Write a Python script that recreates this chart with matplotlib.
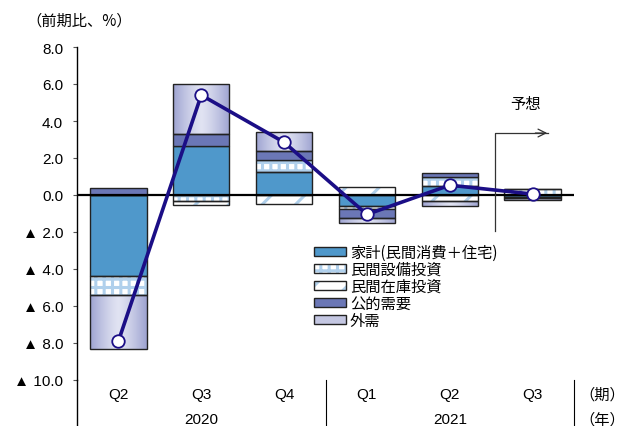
import numpy as np
import matplotlib
matplotlib.use("Agg")
import matplotlib.pyplot as plt
from matplotlib.patches import Patch
from matplotlib.legend_handler import HandlerTuple
import matplotlib.transforms as mtransforms

plt.rcParams['font.family'] = ['Liberation Sans', 'Noto Sans CJK JP', 'DejaVu Sans']
plt.rcParams['hatch.linewidth'] = 2.2

quarters = ['Q2', 'Q3', 'Q4', 'Q1', 'Q2', 'Q3']
years = ['2020', '2021']
series_names = ['家計(民間消費＋住宅)', '民間設備投資', '民間在庫投資', '公的需要', '外需']
household = [-4.4, 2.63, 1.26, -0.6, 0.5, -0.1]
equipment = [-1.0, -0.3, 0.65, -0.15, 0.45, 0.3]
inventory = [0.0, -0.24, -0.5, 0.45, -0.3, 0.0]
public = [0.4, 0.65, 0.45, -0.5, 0.22, -0.05]
foreign = [-2.9, 2.7, 1.03, -0.25, -0.32, -0.1]
gdp = [-7.9, 5.4, 2.85, -1.05, 0.53, 0.05]
yticks = [8, 6, 4, 2, 0, -2, -4, -6, -8, -10]
yticklabels = ['8.0', '6.0', '4.0', '2.0', '0.0', '▲ 2.0', '▲ 4.0', '▲ 6.0', '▲ 8.0', '▲ 10.0']

fig = plt.figure(figsize=(6.28, 4.27), dpi=100)
ax = fig.add_axes([77/628, 1-381/427, (574-77)/628, (381-48)/427])

x = np.arange(len(quarters))
width = 0.68
edge = '#222222'
c_house = '#4F98CB'
c_public = '#6B77B6'
c_equip_h = '#B0D0EC'
c_inv_h = '#AFCFEA'

series = [household, equipment, inventory, public, foreign]
styles = [
    dict(facecolor=c_house, hatch=None, hcolor=None),
    dict(facecolor='white', hatch='++', hcolor=c_equip_h),
    dict(facecolor='white', hatch='/', hcolor=c_inv_h),
    dict(facecolor=c_public, hatch=None, hcolor=None),
    dict(facecolor='grad', hatch=None, hcolor=None),
]

pos_bottom = np.zeros(len(x))
neg_bottom = np.zeros(len(x))

grad = np.linspace(-1, 1, 100)
grad = 1 - np.abs(grad) ** 1.3
c_edge = np.array([0.62, 0.64, 0.82])
c_mid = np.array([0.88, 0.89, 0.95])
gimg = (c_edge[None, :] + (c_mid - c_edge)[None, :] * grad[:, None])[None, :, :]

for vals, st in zip(series, styles):
    vals = np.array(vals, dtype=float)
    bottoms = np.where(vals >= 0, pos_bottom, neg_bottom)
    if st['facecolor'] == 'grad':
        bars = ax.bar(x, vals, width, bottom=bottoms, facecolor='none',
                      edgecolor=edge, linewidth=1.0, zorder=3)
        for b in bars:
            if b.get_height() == 0:
                continue
            x0 = b.get_x(); w = b.get_width()
            y0 = b.get_y(); h = b.get_height()
            im = ax.imshow(gimg, extent=(x0, x0 + w, min(y0, y0 + h), max(y0, y0 + h)),
                           aspect='auto', zorder=2, interpolation='bilinear')
            im.set_clip_path(b)
    elif st['hatch']:
        ax.bar(x, vals, width, bottom=bottoms, facecolor=st['facecolor'],
               edgecolor=st['hcolor'], hatch=st['hatch'], linewidth=0, zorder=2)
        ax.bar(x, vals, width, bottom=bottoms, facecolor='none',
               edgecolor=edge, linewidth=1.0, zorder=3)
    else:
        ax.bar(x, vals, width, bottom=bottoms, facecolor=st['facecolor'],
               edgecolor=edge, linewidth=1.0, zorder=3)
    pos_bottom = pos_bottom + np.where(vals >= 0, vals, 0)
    neg_bottom = neg_bottom + np.where(vals < 0, vals, 0)

ax.axhline(0, color='black', linewidth=1.6, zorder=4)

ax.plot(x, gdp, color='#1B0E86', linewidth=2.6, marker='o', markersize=9,
        markerfacecolor='white', markeredgecolor='#1B0E86', markeredgewidth=1.3, zorder=6)

ax.set_xlim(-0.5, 5.5)
ax.set_ylim(-10, 8)
ax.set_yticks(yticks)
ax.set_yticklabels(yticklabels, fontsize=11)
ax.tick_params(axis='y', direction='out', length=3, width=0.8, color='#555555', pad=7)
ax.set_xticks([])
for s in ['top', 'right', 'bottom']:
    ax.spines[s].set_visible(False)
ax.spines['left'].set_linewidth(1.0)

trans = mtransforms.blended_transform_factory(ax.transData, ax.transAxes)
ax.plot([-0.5, -0.5], [0, -0.14], transform=trans, color='black', linewidth=1.0, clip_on=False)
for dx in [2.5, 5.5]:
    ax.plot([dx, dx], [0, -0.14], transform=trans, color='black', linewidth=0.8, clip_on=False)

for xi, q in zip(x, quarters):
    ax.text(xi, -0.042, q, transform=trans, ha='center', va='center', fontsize=11, clip_on=False)
ax.text(1, -0.116, years[0], transform=trans, ha='center', va='center', fontsize=11, clip_on=False)
ax.text(4, -0.116, years[1], transform=trans, ha='center', va='center', fontsize=11, clip_on=False)
ax.text(5.84, -0.042, '（期）', transform=trans, ha='center', va='center', fontsize=11, clip_on=False,
        family=['Noto Sans CJK JP'])
ax.text(5.84, -0.116, '（年）', transform=trans, ha='center', va='center', fontsize=11, clip_on=False,
        family=['Noto Sans CJK JP'])

fig.text(79/628, 1-21/427, '（前期比、%）', ha='center', va='center', fontsize=11,
         family=['Noto Sans CJK JP'])

# forecast marker
ax.plot([4.55, 4.55, 5.19], [-1.95, 3.35, 3.35], color='#333333', linewidth=0.9, zorder=5)
ax.annotate('', xy=(5.21, 3.35), xytext=(5.0, 3.35),
            arrowprops=dict(arrowstyle='->', color='#333333', lw=0.9, mutation_scale=14))
ax.text(4.92, 4.95, '予想', ha='center', va='center', fontsize=11, family=['Noto Sans CJK JP'])

outline = lambda: Patch(facecolor='none', edgecolor=edge, linewidth=1.0)
handles = [
    Patch(facecolor=c_house, edgecolor=edge, linewidth=1.0),
    (Patch(facecolor='white', edgecolor=c_equip_h, hatch='++', linewidth=0), outline()),
    (Patch(facecolor='white', edgecolor=c_inv_h, hatch='/', linewidth=0), outline()),
    Patch(facecolor=c_public, edgecolor=edge, linewidth=1.0),
    Patch(facecolor='#C4C7E2', edgecolor=edge, linewidth=1.0),
]
leg = fig.legend(handles, series_names, loc='upper left', bbox_to_anchor=(314/628, 1-245/427),
                 frameon=False, handlelength=2.1, handleheight=0.55,
                 handletextpad=0.25, labelspacing=0.0, borderpad=0, borderaxespad=0,
                 handler_map={tuple: HandlerTuple(ndivide=1)},
                 prop={'family': ['Noto Sans CJK JP'], 'size': 11})

fig.savefig('out.png', dpi=100)
